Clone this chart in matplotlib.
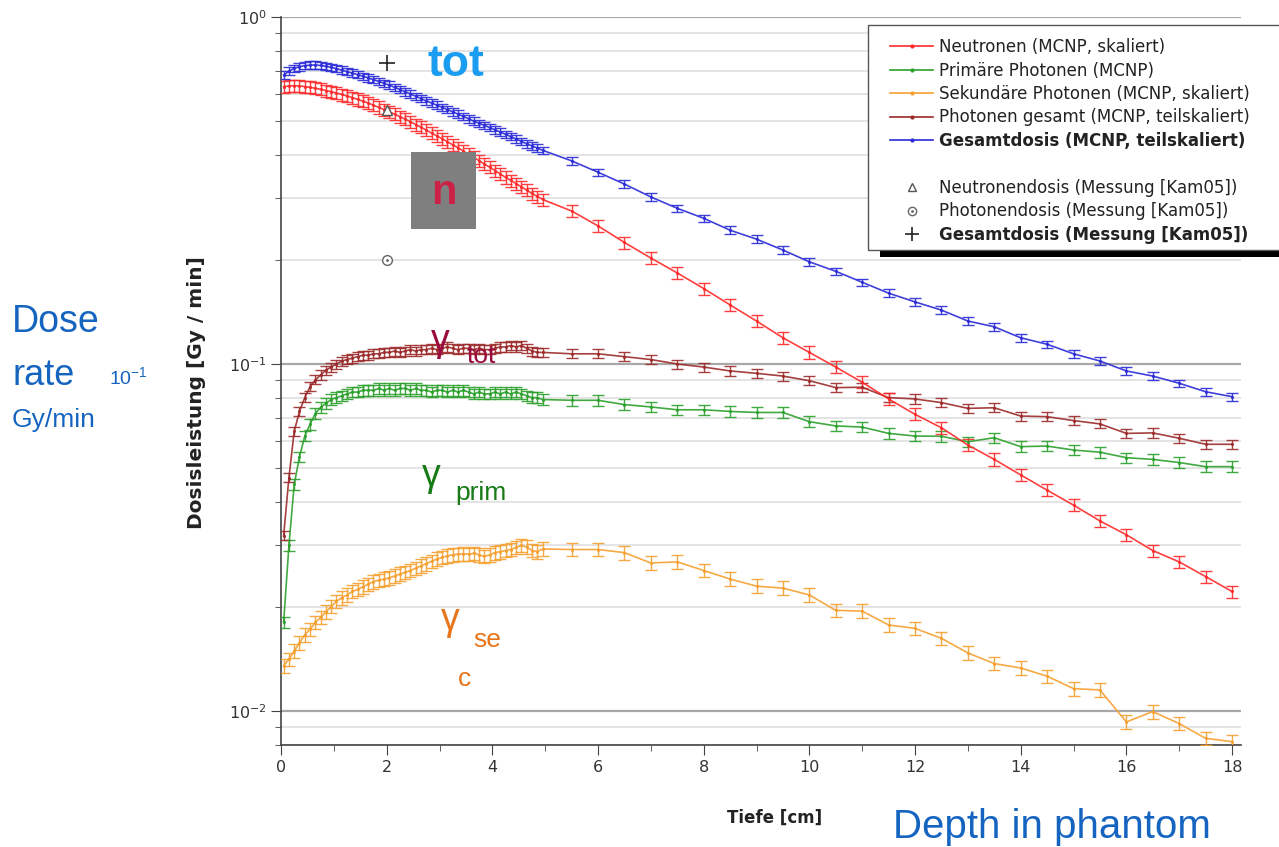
import numpy as np
import matplotlib.pyplot as plt
from matplotlib.lines import Line2D
from matplotlib.patches import Rectangle
from matplotlib.ticker import LogLocator, NullFormatter, MultipleLocator

plt.rcParams["font.family"] = ["DejaVu Sans"]

# depth grid: fine steps up to 5 cm, then 0.5 cm steps
depth_fine = np.round(np.arange(0.05, 5.0, 0.1), 2)
depth_coarse = np.round(np.arange(5.5, 18.01, 0.5), 2)
depth = np.concatenate([depth_fine, depth_coarse])

neutron_dose = [
    0.630, 0.633, 0.634, 0.633, 0.630, 0.627, 0.623, 0.619, 0.614, 0.609,
    0.604, 0.598, 0.592, 0.586, 0.579, 0.572, 0.565, 0.557, 0.549, 0.541,
    0.533, 0.525, 0.516, 0.508, 0.499, 0.490, 0.481, 0.472, 0.463, 0.454,
    0.446, 0.437, 0.428, 0.420, 0.411, 0.402, 0.394, 0.385, 0.377, 0.369,
    0.361, 0.353, 0.345, 0.338, 0.331, 0.324, 0.317, 0.310, 0.304, 0.298,
    0.276, 0.250, 0.224, 0.202, 0.183, 0.165, 0.148, 0.133, 0.119, 0.108,
    0.098, 0.0886, 0.0793, 0.0716, 0.0655, 0.0584, 0.0531, 0.0479, 0.0433, 0.0392,
    0.0353, 0.0322, 0.0290, 0.0269, 0.0244, 0.0221,
]
primary_dose = [
    0.018, 0.030, 0.045, 0.054, 0.062, 0.067, 0.072, 0.075, 0.077, 0.079,
    0.080, 0.081, 0.082, 0.083, 0.083, 0.084, 0.084, 0.084, 0.085, 0.084,
    0.085, 0.084, 0.085, 0.085, 0.084, 0.085, 0.084, 0.084, 0.083, 0.084,
    0.084, 0.083, 0.084, 0.083, 0.084, 0.083, 0.082, 0.083, 0.082, 0.082,
    0.083, 0.082, 0.083, 0.082, 0.083, 0.082, 0.081, 0.080, 0.080, 0.079,
    0.0786, 0.0786, 0.0764, 0.0752, 0.0738, 0.0738, 0.0730, 0.0725, 0.0725, 0.0682,
    0.0663, 0.0658, 0.0631, 0.0620, 0.0619, 0.0597, 0.0613, 0.0578, 0.0580, 0.0565,
    0.0557, 0.0537, 0.0531, 0.0520, 0.0506, 0.0506,
]
secondary_dose = [
    0.0135, 0.0141, 0.0149, 0.0157, 0.0166, 0.0172, 0.0180, 0.0186, 0.0193, 0.0200,
    0.0207, 0.0212, 0.0216, 0.0221, 0.0224, 0.0228, 0.0232, 0.0236, 0.0238, 0.0240,
    0.0242, 0.0245, 0.0248, 0.0251, 0.0254, 0.0258, 0.0262, 0.0266, 0.0270, 0.0274,
    0.0277, 0.0280, 0.0282, 0.0283, 0.0284, 0.0283, 0.0285, 0.0282, 0.0279, 0.0282,
    0.0286, 0.0288, 0.0290, 0.0292, 0.0296, 0.0300, 0.0297, 0.0290, 0.0288, 0.0293,
    0.0292, 0.0292, 0.0286, 0.0267, 0.0269, 0.0254, 0.0240, 0.0229, 0.0226, 0.0216,
    0.0195, 0.0194, 0.0177, 0.0173, 0.0162, 0.0147, 0.0137, 0.0133, 0.0126, 0.0116,
    0.0115, 0.0093, 0.00996, 0.0092, 0.00834, 0.00816,
]
photon_total_dose = [
    0.032, 0.047, 0.064, 0.073, 0.080, 0.086, 0.090, 0.093, 0.096, 0.098,
    0.100, 0.102, 0.103, 0.104, 0.105, 0.106, 0.106, 0.107, 0.107, 0.108,
    0.108, 0.109, 0.108, 0.109, 0.110, 0.109, 0.110, 0.110, 0.111, 0.110,
    0.111, 0.112, 0.111, 0.110, 0.111, 0.111, 0.110, 0.111, 0.110, 0.110,
    0.111, 0.112, 0.112, 0.113, 0.112, 0.113, 0.111, 0.109, 0.108, 0.108,
    0.107, 0.107, 0.105, 0.103, 0.100, 0.098, 0.0955, 0.094, 0.0923, 0.0895,
    0.0855, 0.0857, 0.0800, 0.0793, 0.0774, 0.0745, 0.0748, 0.0708, 0.0705, 0.0687,
    0.0672, 0.0631, 0.0633, 0.0611, 0.0587, 0.0587,
]
total_dose = [
    0.680, 0.698, 0.711, 0.719, 0.724, 0.727, 0.727, 0.725, 0.721, 0.716,
    0.710, 0.703, 0.696, 0.689, 0.682, 0.675, 0.667, 0.660, 0.652, 0.644,
    0.636, 0.627, 0.618, 0.609, 0.600, 0.591, 0.582, 0.573, 0.565, 0.557,
    0.549, 0.541, 0.533, 0.525, 0.517, 0.509, 0.501, 0.494, 0.487, 0.480,
    0.473, 0.466, 0.459, 0.452, 0.445, 0.438, 0.431, 0.425, 0.419, 0.413,
    0.385, 0.357, 0.330, 0.303, 0.281, 0.263, 0.243, 0.229, 0.213, 0.197,
    0.185, 0.172, 0.160, 0.151, 0.143, 0.133, 0.128, 0.119, 0.114, 0.107,
    0.102, 0.0955, 0.0923, 0.0880, 0.0832, 0.0805,
]

meas_depth = [2.0]
meas_neutron = [0.54]
meas_photon = [0.20]
meas_total = [0.737]

# (values, relative error, colour, label)
series = [
    (secondary_dose, 0.045, "#f5a030", "Sekundäre Photonen (MCNP, skaliert)"),
    (primary_dose, 0.035, "#2ca02c", "Primäre Photonen (MCNP)"),
    (photon_total_dose, 0.03, "#9c2a2a", "Photonen gesamt (MCNP, teilskaliert)"),
    (neutron_dose, 0.04, "#ff2a2a", "Neutronen (MCNP, skaliert)"),
    (total_dose, 0.025, "#2a2ad8", "Gesamtdosis (MCNP, teilskaliert)"),
]

W, H = 1279, 847
fig = plt.figure(figsize=(W / 100, H / 100), dpi=100)


def fx(x):
    return x / W


def fy(y):
    return 1 - y / H


ax = fig.add_axes([fx(281), fy(745), fx(1241) - fx(281), fy(17) - fy(745)])
ax.set_yscale("log")
ax.set_xlim(0, 18.17)
ax.set_ylim(0.00798, 1.0)

handles = {}
for vals, rel, color, label in series:
    v = np.array(vals)
    ax.errorbar(depth, v, yerr=v * rel, color=color, lw=1.2, marker=".", ms=2.5,
                capsize=4.5, elinewidth=1.0, capthick=1.0, alpha=0.9, zorder=3)
    handles[label] = Line2D([], [], color=color, lw=1.2, marker=".", ms=4)

ax.plot(meas_depth, meas_neutron, ls="none", marker="^", mfc="white", mec="#555555", ms=7, zorder=5)
ax.plot(meas_depth, meas_photon, ls="none", marker="o", mfc="white", mec="#666666", ms=7, zorder=5)
ax.plot(meas_depth, meas_photon, ls="none", marker=".", color="#666666", ms=2, zorder=6)
ax.plot(meas_depth, meas_total, ls="none", marker="+", color="#222222", ms=12, mew=1.2, zorder=5)

ax.xaxis.set_major_locator(MultipleLocator(2))
ax.xaxis.set_minor_locator(MultipleLocator(1))
ax.yaxis.set_major_locator(LogLocator(base=10))
ax.yaxis.set_minor_locator(LogLocator(base=10, subs=np.arange(2, 10)))
ax.yaxis.set_minor_formatter(NullFormatter())
ax.tick_params(which="both", direction="out", colors="#444444", labelcolor="#333333", labelsize=11.5)
ax.tick_params(which="major", length=7)
ax.tick_params(which="minor", length=4)
ax.set_axisbelow(True)
ax.yaxis.grid(True, which="major", color="#a8a8a8", lw=1.6)
ax.yaxis.grid(True, which="minor", color="#e2e2e2", lw=1.3)
for s in ["top", "right"]:
    ax.spines[s].set_visible(False)
for s in ["left", "bottom"]:
    ax.spines[s].set_color("#444444")
    ax.spines[s].set_linewidth(1.2)

fig.text(fx(196), fy(393), "Dosisleistung [Gy / min]", rotation=90, ha="center", va="center",
         fontsize=14.5, fontweight="bold", color="#222222")
fig.text(fx(775), fy(818), "Tiefe [cm]", ha="center", va="center",
         fontsize=12, fontweight="bold", color="#222222")

# legend: own frame + shadow bar, entries without frame
order = ["Neutronen (MCNP, skaliert)", "Primäre Photonen (MCNP)", "Sekundäre Photonen (MCNP, skaliert)",
         "Photonen gesamt (MCNP, teilskaliert)", "Gesamtdosis (MCNP, teilskaliert)"]
leg_handles = [handles[k] for k in order]
leg_labels = list(order)
leg_handles.append(Line2D([], [], color="none"))
leg_labels.append(" ")
leg_handles.append(Line2D([], [], ls="none", marker="^", mfc="white", mec="#555555", ms=6))
leg_labels.append("Neutronendosis (Messung [Kam05])")
leg_handles.append((Line2D([], [], ls="none", marker="o", mfc="white", mec="#666666", ms=6),
                    Line2D([], [], ls="none", marker=".", color="#666666", ms=2)))
leg_labels.append("Photonendosis (Messung [Kam05])")
leg_handles.append(Line2D([], [], ls="none", marker="+", color="#222222", ms=10, mew=1.2))
leg_labels.append("Gesamtdosis (Messung [Kam05])")

fig.patches.append(Rectangle((fx(880), fy(257)), fx(1279) - fx(880), 12 / H,
                             transform=fig.transFigure, facecolor="black", edgecolor="none", zorder=8))
fig.patches.append(Rectangle((fx(868), fy(250)), fx(1300) - fx(868), (250 - 25) / H,
                             transform=fig.transFigure, facecolor="white", edgecolor="#555555",
                             lw=1.0, zorder=9))
leg = fig.legend(leg_handles, leg_labels, loc="upper left", bbox_to_anchor=(fx(880), fy(28)),
                 bbox_transform=fig.transFigure, borderaxespad=0, fontsize=12, handlelength=2.6,
                 handletextpad=0.35, labelspacing=0.33, borderpad=0.6, frameon=False)
leg.set_zorder(10)
for i, t in enumerate(leg.get_texts()):
    t.set_color("#222222")
    if i in (4, 8):
        t.set_fontweight("bold")

# annotations
blue = "#1565c0"
sans = ["Liberation Sans", "DejaVu Sans"]
fig.text(fx(12), fy(332), "Dose", fontsize=27, color=blue, family=sans, va="baseline")
fig.text(fx(12), fy(385), "rate", fontsize=26, color=blue, family=sans, va="baseline")
fig.text(fx(109), fy(385), r"10$^{\mathregular{-1}}$", fontsize=14, color=blue, family=sans, va="baseline")
fig.text(fx(12), fy(427), "Gy/min", fontsize=19, color=blue, family=sans, va="baseline")
fig.text(fx(893), fy(838), "Depth in phantom", fontsize=29, color=blue, family=sans, va="baseline")

fig.text(fx(427), fy(76), "tot", fontsize=32, fontweight="bold", color="#1a9cf0", family=sans, va="baseline")
fig.patches.append(Rectangle((fx(411), fy(229)), fx(476) - fx(411), (229 - 152) / H,
                             transform=fig.transFigure, facecolor="#7f7f7f", edgecolor="none", zorder=4))
fig.text(fx(444), fy(193), "n", fontsize=30, fontweight="bold", color="#cc2147", family=sans,
         ha="center", va="center", zorder=5)

fig.text(fx(440), fy(341), "γ", fontsize=27, color="#9b0a3c", family=sans, ha="center", va="center")
fig.text(fx(467), fy(363), "tot", fontsize=19, color="#9b0a3c", family=sans, va="baseline")
fig.text(fx(431), fy(476), "γ", fontsize=27, color="#167a16", family=sans, ha="center", va="center")
fig.text(fx(455), fy(500), "prim", fontsize=19, color="#167a16", family=sans, va="baseline")
fig.text(fx(450), fy(620), "γ", fontsize=27, color="#e8751a", family=sans, ha="center", va="center")
fig.text(fx(473), fy(647), "se", fontsize=19, color="#e8751a", family=sans, va="baseline")
fig.text(fx(458), fy(686), "c", fontsize=19, color="#e8751a", family=sans, va="baseline")

fig.savefig("out.png", dpi=100)
